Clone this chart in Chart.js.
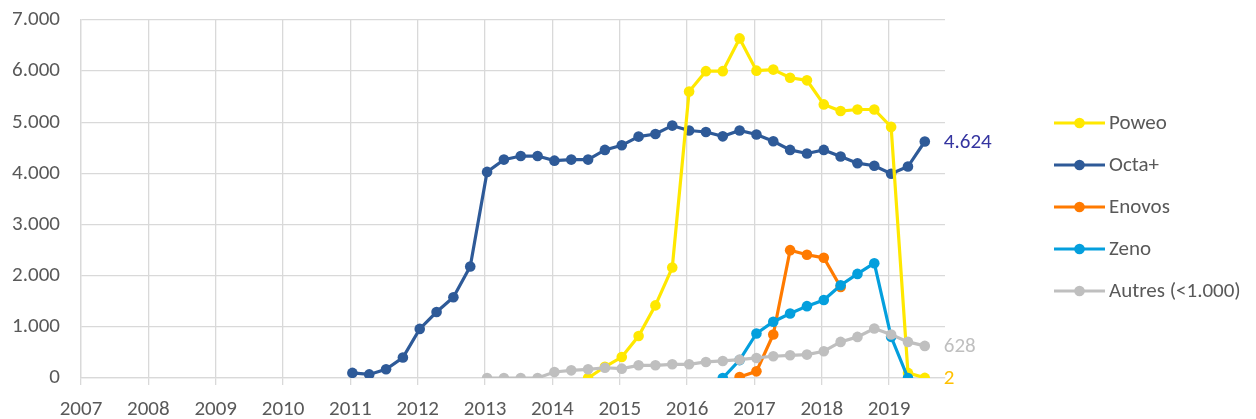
<!DOCTYPE html>
<html>
<head>
<meta charset="utf-8">
<script src="https://cdn.jsdelivr.net/npm/chart.js@4"></script>
<style>
  html, body { margin: 0; padding: 0; background: #fff; }
  #wrap { width: 1256px; height: 419px; }
</style>
</head>
<body>
<div id="wrap"><canvas id="chart" width="1256" height="419"></canvas></div>
<script>
// quarterly series, each starts at the given year (Q1), one value per quarter
const yearTicks = [2007, 2008, 2009, 2010, 2011, 2012, 2013, 2014, 2015, 2016, 2017, 2018, 2019];

const poweoStart = 2014.5;
const poweo = [0, 220, 410, 820, 1420, 2160, 5600, 6000, 6000, 6640, 6010, 6030,
    5870, 5820, 5350, 5220, 5250, 5250, 4910, 100, 2];

const octaStart = 2011;
const octa = [100, 70, 170, 400, 960, 1290, 1580, 2180, 4030, 4270, 4340, 4340,
    4250, 4270, 4270, 4460, 4550, 4720, 4770, 4935, 4840, 4810, 4725, 4840,
    4760, 4630, 4460, 4390, 4460, 4330, 4200, 4150, 3995, 4135, 4624];

const enovosStart = 2016.75;
const enovos = [20, 130, 850, 2500, 2410, 2350, 1780];

const zenoStart = 2016.5;
const zeno = [0, 350, 870, 1100, 1260, 1405, 1525, 1815, 2035, 2245, 805, 0];

const autresStart = 2013;
const autres = [0, 0, 0, 0, 118, 150, 170, 200, 183, 248, 248, 268,
    268, 314, 333, 359, 392, 425, 444, 458, 523, 706, 804, 967,
    850, 706, 628];

const names = ["Poweo", "Octa+", "Enovos", "Zeno", "Autres (<1.000)"];
const colors = ["#FFE800", "#2E5A98", "#FF7A00", "#049FDD", "#BFBFBF"];

function toPoints(start, vals) {
    // small offset: points sit a few days into each quarter
    return vals.map((v, i) => ({ x: start + i * 0.25 + 0.03, y: v }));
}

const seriesData = [
    toPoints(poweoStart, poweo),
    toPoints(octaStart, octa),
    toPoints(enovosStart, enovos),
    toPoints(zenoStart, zeno),
    toPoints(autresStart, autres)
];
// draw order: Autres on top, Octa+ at the bottom
const drawOrder = [3, 4, 2, 1, 0];

const FONT = "Carlito, Calibri, Lato, sans-serif";
const FSIZE = 21;

const datasets = names.map((n, i) => ({
    label: n,
    data: seriesData[i],
    borderColor: colors[i],
    backgroundColor: colors[i],
    pointBackgroundColor: colors[i],
    pointBorderColor: colors[i],
    borderWidth: 3.2,
    pointRadius: 5.3,
    pointBorderWidth: 0,
    tension: 0,
    order: drawOrder[i]
}));

// end-of-line value labels
const endLabels = [
    { ds: 1, text: "4.624", color: "#3535A0" },
    { ds: 4, text: "628", color: "#BFBFBF" },
    { ds: 0, text: "2", color: "#FFC000" }
];

const extrasPlugin = {
    id: "extras",
    afterDatasetsDraw(chart) {
        const ctx = chart.ctx;
        const xs = chart.scales.x, ys = chart.scales.y;
        ctx.save();
        ctx.font = FSIZE + "px " + FONT;
        ctx.textBaseline = "middle";
        ctx.textAlign = "left";
        endLabels.forEach(l => {
            const pts = seriesData[l.ds];
            const p = pts[pts.length - 1];
            ctx.fillStyle = l.color;
            ctx.fillText(l.text, xs.getPixelForValue(p.x) + 19, ys.getPixelForValue(p.y) + 1);
        });

        // legend: line with a marker, like the spreadsheet one
        const lx = 1054, lw = 51, ty0 = 123, gap = 42;
        names.forEach((n, i) => {
            const y = ty0 + i * gap;
            ctx.strokeStyle = colors[i];
            ctx.lineWidth = 3.2;
            ctx.beginPath();
            ctx.moveTo(lx, y);
            ctx.lineTo(lx + lw, y);
            ctx.stroke();
            ctx.fillStyle = colors[i];
            ctx.beginPath();
            ctx.arc(lx + lw / 2, y, 5.3, 0, Math.PI * 2);
            ctx.fill();
            ctx.fillStyle = "#595959";
            ctx.fillText(n, lx + lw + 4, y + 1);
        });
        ctx.restore();
    }
};

new Chart("chart", {
    type: "line",
    data: { datasets: datasets },
    options: {
        responsive: false,
        animation: false,
        events: [],
        layout: { padding: { left: 0, right: 311, top: 20, bottom: 0 } },
        plugins: {
            legend: { display: false },
            tooltip: { enabled: false }
        },
        scales: {
            x: {
                type: "linear",
                min: 2007,
                max: 2019.83,
                afterBuildTicks: s => { s.ticks = yearTicks.map(v => ({ value: v })); },
                afterFit: s => { s.height = 41; },
                grid: { color: "#D9D9D9", lineWidth: 1.3, drawTicks: true, tickLength: 7, tickColor: "#D9D9D9" },
                border: { color: "#D9D9D9", width: 1.3 },
                ticks: {
                    color: "#595959",
                    font: { family: FONT, size: FSIZE },
                    padding: 12,
                    maxRotation: 0,
                    autoSkip: false,
                    callback: v => String(v)
                }
            },
            y: {
                min: 0,
                max: 7000,
                // fixed axis width; drop the label padding chart.js adds above the plot
                afterFit: s => { s.width = 81; s.paddingTop = 0; s.paddingBottom = 0; },
                grid: { color: "#D9D9D9", lineWidth: 1.3, drawTicks: false },
                border: { color: "#D9D9D9", width: 1.3 },
                ticks: {
                    stepSize: 1000,
                    color: "#595959",
                    font: { family: FONT, size: FSIZE },
                    padding: 21,
                    callback: v => v.toLocaleString("de-DE")
                }
            }
        }
    },
    plugins: [extrasPlugin]
});
</script>
</body>
</html>
